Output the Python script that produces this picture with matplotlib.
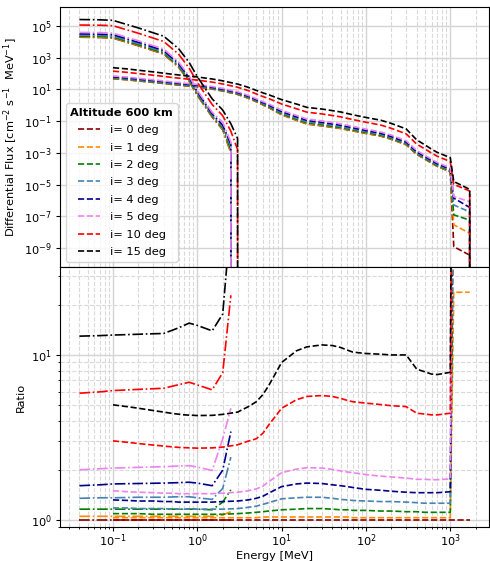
import numpy as np
import matplotlib.pyplot as plt
from matplotlib.ticker import NullLocator

plt.rcParams['font.size'] = 8.2
plt.rcParams['lines.linewidth'] = 1.2
plt.rcParams['xtick.major.size'] = 2.9
plt.rcParams['ytick.major.size'] = 2.9
plt.rcParams['xtick.minor.size'] = 1.6
plt.rcParams['ytick.minor.size'] = 1.6
plt.rcParams['xtick.major.pad'] = 1.0
plt.rcParams['ytick.major.pad'] = 2.9
plt.rcParams['axes.labelpad'] = 3.3

inclinations = [0, 1, 2, 3, 4, 5, 10, 15]
colors = ['darkred', 'darkorange', 'green', 'steelblue', 'darkblue', 'violet', 'red', 'black']

# electron spectra (MeV, cm-2 s-1 MeV-1), flux for i=0 and ratio to i=0
e_energy = [0.04, 0.07, 0.1, 0.2, 0.4, 0.6, 0.8, 1.0, 1.5, 2.0, 2.5]
e_flux_i0 = [1.95e4, 1.86e4, 1.7e4, 5.6e3, 1.66e3, 2.5e2, 3.2e1, 4.2, 1.8e-1, 2.8e-2, 1.0e-3]
e_ratio = {
    0: [1.0, 1.0, 1.0, 1.0, 1.0, 1.0, 1.0, 1.0, 1.0, 1.0, 1.0],
    1: [1.05, 1.05, 1.05, 1.05, 1.05, 1.05, 1.05, 1.05, 1.05, 1.07, 1.12],
    2: [1.16, 1.16, 1.16, 1.16, 1.16, 1.16, 1.16, 1.16, 1.15, 1.28, 1.52],
    3: [1.35, 1.36, 1.36, 1.37, 1.37, 1.38, 1.38, 1.36, 1.33, 1.55, 2.4],
    4: [1.61, 1.63, 1.65, 1.66, 1.67, 1.68, 1.69, 1.67, 1.61, 2.0, 3.43],
    5: [2.01, 2.04, 2.06, 2.08, 2.1, 2.12, 2.13, 2.09, 1.99, 3.1, 4.75],
    10: [5.86, 5.97, 6.08, 6.18, 6.28, 6.6, 6.83, 6.58, 6.14, 7.8, 23.0],
    15: [13.0, 13.1, 13.2, 13.35, 13.5, 14.6, 15.6, 15.1, 14.0, 17.7, 68.0],
}
# flux above 2.5 MeV (zero where the spectrum has ended)
e_tail_energy = [3.0, 3.5]
e_tail_flux = {0: [0.0, 0.0], 1: [0.0, 0.0], 2: [0.0, 0.0], 3: [0.0, 0.0],
               4: [0.0, 0.0], 5: [0.0, 0.0], 10: [1.6e-3, 0.0], 15: [8.0e-3, 0.0]}

# proton spectra
p_energy = [0.1, 0.15, 0.2, 0.3, 0.4, 0.5, 0.6, 0.7, 1, 1.5, 2, 3, 4, 5, 6, 7, 10, 15, 20, 30,
            40, 50, 60, 70, 100, 150, 200, 300, 400, 500, 600, 700, 1000, 1100, 1700]
p_flux_i0 = [46.8, 39.8, 33.9, 27.5, 23.4, 20.4, 18.6, 17.0, 14.1, 10.5, 7.9, 4.8, 2.8, 1.66,
             1.05, 0.71, 0.25, 0.112, 0.065, 0.050, 0.040, 0.034, 0.028, 0.024, 0.0166,
             0.0112, 0.0071, 0.0032, 7.9e-4, 4.0e-4, 2.2e-4, 1.4e-4, 6.3e-5, 1.2e-9, 3.5e-10]
p_ratio = {
    0: [1.0] * 35,
    1: [1.03, 1.03, 1.03, 1.03, 1.03, 1.03, 1.03, 1.03, 1.03, 1.03, 1.03, 1.03, 1.03, 1.03,
        1.04, 1.04, 1.04, 1.04, 1.04, 1.04, 1.04, 1.04, 1.04, 1.03, 1.03, 1.03, 1.03, 1.03,
        1.03, 1.03, 1.03, 1.03, 1.03, 24.0, 24.0],
    2: [1.09, 1.09, 1.09, 1.08, 1.08, 1.08, 1.08, 1.08, 1.08, 1.08, 1.08, 1.09, 1.1, 1.11,
        1.12, 1.13, 1.15, 1.16, 1.17, 1.17, 1.16, 1.15, 1.15, 1.14, 1.14, 1.13, 1.13, 1.12,
        1.12, 1.11, 1.11, 1.11, 1.11, 102.0, 162.0],
    3: [1.18, 1.18, 1.17, 1.17, 1.17, 1.16, 1.16, 1.16, 1.16, 1.16, 1.16, 1.17, 1.19, 1.21,
        1.24, 1.27, 1.34, 1.36, 1.37, 1.37, 1.35, 1.33, 1.32, 1.31, 1.3, 1.29, 1.29, 1.28,
        1.27, 1.26, 1.26, 1.26, 1.26, 427.0, 537.0],
    4: [1.32, 1.31, 1.3, 1.3, 1.29, 1.29, 1.28, 1.28, 1.28, 1.28, 1.29, 1.3, 1.32, 1.35,
        1.39, 1.45, 1.59, 1.65, 1.67, 1.66, 1.63, 1.61, 1.59, 1.57, 1.53, 1.51, 1.49, 1.47,
        1.46, 1.46, 1.46, 1.46, 1.48, 1150.0, 1020.0],
    5: [1.5, 1.48, 1.47, 1.46, 1.45, 1.45, 1.44, 1.44, 1.44, 1.44, 1.45, 1.47, 1.5, 1.54,
        1.6, 1.7, 1.93, 2.03, 2.07, 2.06, 2.02, 1.98, 1.95, 1.93, 1.88, 1.84, 1.82, 1.79,
        1.76, 1.76, 1.75, 1.75, 1.77, 1450.0, 2340.0],
    10: [3.01, 2.95, 2.9, 2.84, 2.8, 2.77, 2.75, 2.74, 2.72, 2.73, 2.76, 2.85, 3.0, 3.1,
         3.35, 3.75, 4.75, 5.35, 5.6, 5.67, 5.6, 5.45, 5.3, 5.2, 5.1, 5.0, 4.92, 4.86,
         4.43, 4.38, 4.33, 4.33, 4.43, 8500.0, 11200.0],
    15: [4.98, 4.85, 4.75, 4.6, 4.5, 4.42, 4.37, 4.33, 4.29, 4.3, 4.36, 4.5, 4.85, 5.2,
         5.75, 6.5, 9.0, 10.6, 11.2, 11.5, 11.4, 11.1, 10.7, 10.4, 10.2, 10.1, 10.0, 10.0,
         8.2, 7.9, 7.65, 7.6, 7.85, 12900.0, 14100.0],
}
p_energy_zero = 1800.0  # first energy with no flux

fig, (ax1, ax2) = plt.subplots(2, 1, sharex=True, figsize=(4.9, 5.61), dpi=100)
fig.subplots_adjust(left=0.1224, right=0.998, top=0.987, bottom=0.06, hspace=0)

handles = []
for inc, col in zip(inclinations, colors):
    ef = np.array(e_flux_i0) * np.array(e_ratio[inc])
    ax1.plot(e_energy + e_tail_energy, list(ef) + e_tail_flux[inc], '-.', color=col)
    pf = np.array(p_flux_i0) * np.array(p_ratio[inc])
    h, = ax1.plot(p_energy + [p_energy_zero], list(pf) + [0.0], '--', color=col,
                  label=f'i= {inc} deg')
    handles.append(h)

    ax2.plot(e_energy, e_ratio[inc], '-.', color=col)
    ax2.plot(p_energy, p_ratio[inc], '--', color=col)

for ax in (ax1, ax2):
    ax.set_xscale('log')
    ax.set_yscale('log')
    ax.grid(which='major', color='0.83', lw=1.0)
    ax.grid(which='minor', color='0.85', ls='--', lw=0.8)

ax1.set_xlim(0.0235, 2880)
ax1.set_ylim(6e-11, 1.5e6)
ax1.set_yticks([1e-9, 1e-7, 1e-5, 1e-3, 1e-1, 1e1, 1e3, 1e5])
ax1.yaxis.set_minor_locator(NullLocator())
ax2.set_ylim(0.9, 34)

ax1.set_ylabel(r'Differential Flux [cm$^{-2}$ s$^{-1}$  MeV$^{-1}$]')
ax2.set_ylabel('Ratio')
ax2.set_xlabel('Energy [MeV]', labelpad=1.5)

leg = ax1.legend(handles=handles, loc='lower left', title='Altitude 600 km',
                 title_fontproperties={'weight': 'bold'}, labelspacing=0.65)

fig.savefig('out.png', dpi=100)
